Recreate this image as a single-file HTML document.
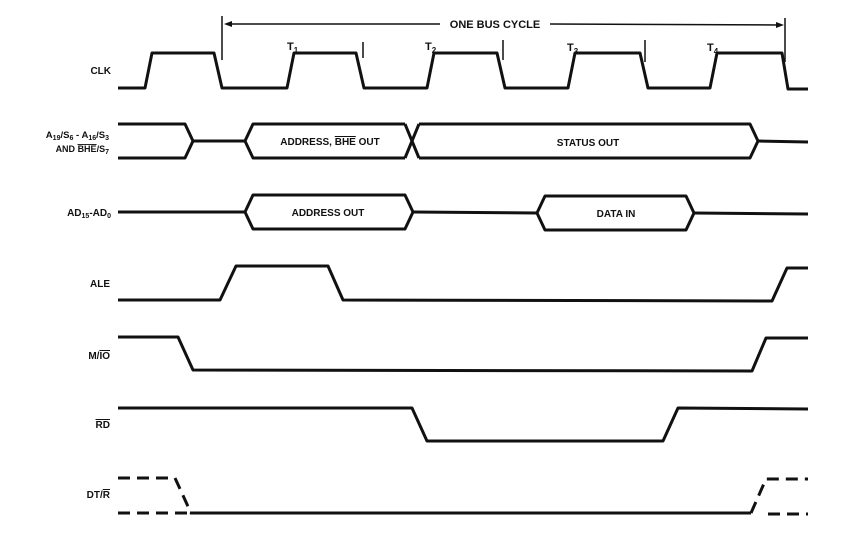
<!DOCTYPE html>
<html><head><meta charset="utf-8"><style>
html,body{margin:0;padding:0;background:#fff}
svg{display:block}
text{font-family:"Liberation Sans",Arial,sans-serif;font-weight:bold;fill:#111}
</style></head><body>
<svg width="854" height="534" viewBox="0 0 854 534" xmlns="http://www.w3.org/2000/svg">
<g fill="none" stroke="#111" stroke-width="3" stroke-linejoin="round">
<!-- CLK -->
<polyline points="118,88 145,88 152,53 214,53 222,88 287,88 294,53 356,53 364,88 427,88 434,53 497,53 505,88 568,88 575,53 640,53 648,88 710,88 717,53 782,53 788,89 808,89"/>
<!-- A19 row -->
<polyline points="118,124 185,124 193,141 185,158 118,158"/>
<line x1="193" y1="141" x2="245" y2="141"/>
<polyline points="405,124 253,124 245,141 253,158 405,158"/>
<line x1="405" y1="124" x2="419" y2="158"/>
<line x1="405" y1="158" x2="419" y2="124"/>
<polyline points="419,124 750,124 758,141 750,158 419,158"/>
<line x1="758" y1="141" x2="808" y2="142"/>
<!-- AD row -->
<line x1="118" y1="212" x2="245" y2="212"/>
<polygon points="245,212 253,195 405,195 413,212 405,229 253,229"/>
<line x1="413" y1="212" x2="537" y2="213"/>
<polygon points="537,213 545,196 686,196 694,213 686,230 545,230"/>
<line x1="694" y1="213" x2="808" y2="214"/>
<!-- ALE -->
<polyline points="118,300 220,300 236,266 328,266 343,300 772,301 787,268 808,268"/>
<!-- M/IO -->
<polyline points="118,337 178,337 193,370 752,371 766,338 808,338"/>
<!-- RD -->
<polyline points="118,408 412,408 427,441 663,441 678,408 808,409"/>
<!-- DT/R -->
<line x1="190" y1="513" x2="751" y2="513"/>
</g>
<g fill="none" stroke="#111" stroke-width="3" stroke-dasharray="12,7">
<polyline points="118,478 175,478 191,513"/>
<line x1="118" y1="513" x2="190" y2="513"/>
<polyline points="751,513 766,479 808,479"/>
<line x1="768" y1="514" x2="808" y2="514"/>
</g>
<!-- bus cycle -->
<g stroke="#111" stroke-width="1.5" fill="none">
<line x1="222" y1="16" x2="222" y2="60"/>
<line x1="785" y1="18" x2="785" y2="62"/>
<line x1="363" y1="42" x2="363" y2="58"/>
<line x1="503" y1="40" x2="503" y2="60"/>
<line x1="645" y1="40" x2="645" y2="62"/>
<line x1="226" y1="24" x2="440" y2="24"/>
<line x1="550" y1="24" x2="780" y2="25"/>
</g>
<polygon points="224,24 232,21 232,27" fill="#111"/>
<polygon points="784,25 776,22 776,28" fill="#111"/>
<text x="495" y="28" font-size="11" text-anchor="middle">ONE BUS CYCLE</text>
<g font-size="11">
<text x="287" y="50">T<tspan font-size="8" dy="3">1</tspan></text>
<text x="425" y="50">T<tspan font-size="8" dy="3">2</tspan></text>
<text x="567" y="51">T<tspan font-size="8" dy="3">3</tspan></text>
<text x="707" y="51">T<tspan font-size="8" dy="3">4</tspan></text>
</g>
<g font-size="10" text-anchor="middle">
<text x="330" y="145">ADDRESS, <tspan text-decoration="overline">BHE</tspan> OUT</text>
<text x="588" y="146">STATUS OUT</text>
<text x="328" y="216">ADDRESS OUT</text>
<text x="616" y="217">DATA IN</text>
</g>
<g font-size="10" text-anchor="end">
<text x="111" y="74">CLK</text>
<text x="109" y="138" font-size="9.5">A<tspan font-size="7" dy="2">19</tspan><tspan dy="-2">/S</tspan><tspan font-size="7" dy="2">6</tspan><tspan dy="-2"> - A</tspan><tspan font-size="7" dy="2">16</tspan><tspan dy="-2">/S</tspan><tspan font-size="7" dy="2">3</tspan></text>
<text x="109" y="152" font-size="9">AND <tspan text-decoration="overline">BHE</tspan>/S<tspan font-size="7" dy="2">7</tspan></text>
<text x="111" y="216">AD<tspan font-size="7" dy="2">15</tspan><tspan dy="-2">-AD</tspan><tspan font-size="7" dy="2">0</tspan></text>
<text x="110" y="287">ALE</text>
<text x="110" y="359">M/<tspan text-decoration="overline">IO</tspan></text>
<text x="110" y="428"><tspan text-decoration="overline">RD</tspan></text>
<text x="110" y="498">DT/<tspan text-decoration="overline">R</tspan></text>
</g>
</svg>
</body></html>
